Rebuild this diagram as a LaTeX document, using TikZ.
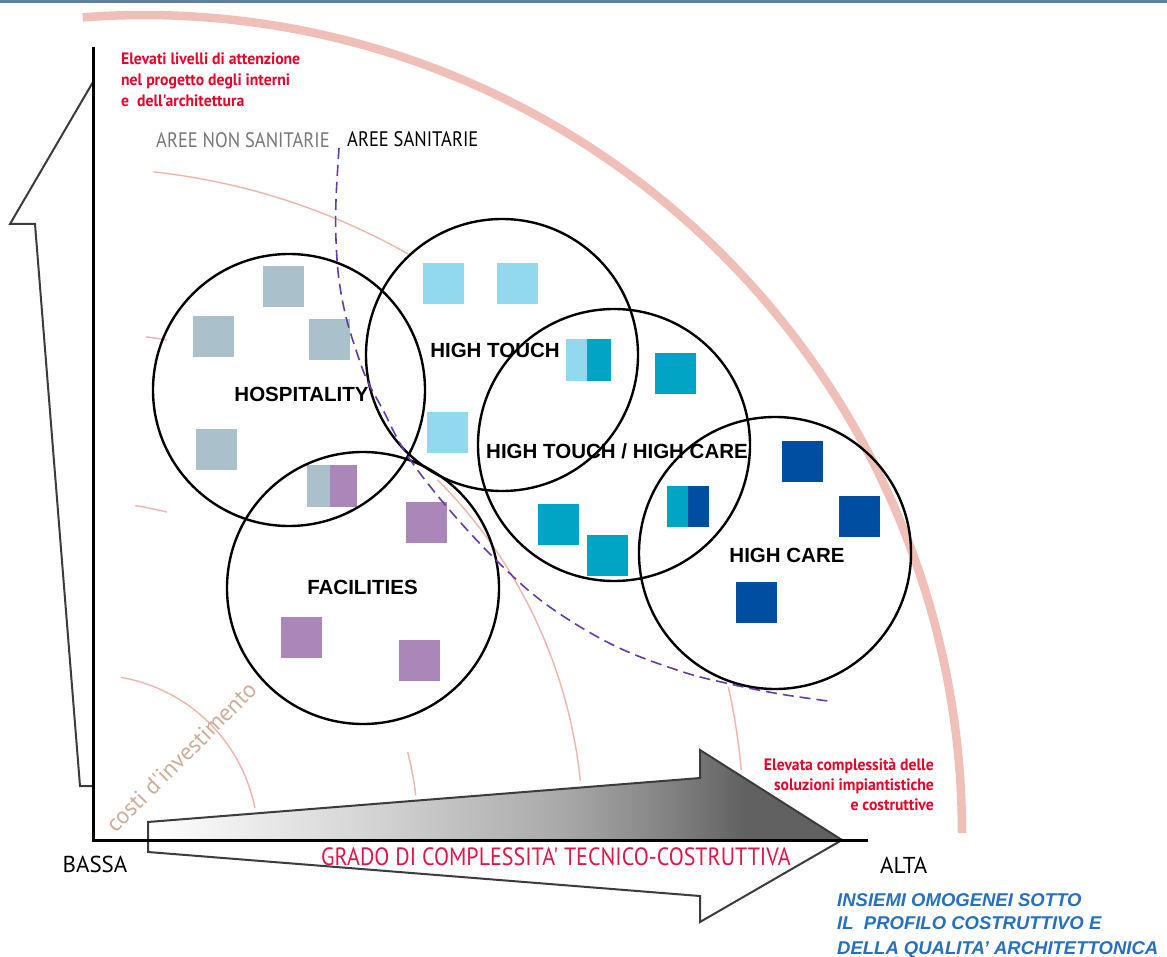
\documentclass[tikz,border=0pt]{standalone}
\usepackage{fontspec}
\setmainfont{Liberation Sans}
\newfontfamily\ptsans{PT Sans}
\newfontfamily\ptcond[FakeStretch=0.88]{PT Sans}
\newfontfamily\ptredf[FakeStretch=0.95]{PT Sans}
\definecolor{hospc}{RGB}{170,192,203}
\definecolor{purpc}{RGB}{170,135,184}
\definecolor{ltcyan}{RGB}{147,217,237}
\definecolor{tealc}{RGB}{0,164,197}
\definecolor{dblue}{RGB}{0,78,161}
\definecolor{bigpink}{RGB}{240,192,184}
\definecolor{thinpink}{RGB}{240,180,168}
\definecolor{dashc}{RGB}{100,60,165}
\definecolor{redtx}{RGB}{236,0,40}
\definecolor{crimson}{RGB}{228,20,72}
\definecolor{costic}{RGB}{208,172,152}
\definecolor{bluetx}{RGB}{38,112,190}
\definecolor{graytx}{RGB}{120,120,120}
\definecolor{topbar}{RGB}{95,125,165}
\definecolor{arrowgray}{RGB}{60,60,60}
\pgfdeclarehorizontalshading{arrowshade}{100bp}{color(0bp)=(white); color(25bp)=(white); color(42bp)=(black!18); color(55bp)=(black!34); color(63bp)=(black!50); color(68bp)=(black!62); color(100bp)=(black!62)}
\newcommand{\sqbox}[3]{\fill[#1] (#2,#3) rectangle ++(41,41);}
\begin{document}
\begin{tikzpicture}[x=1pt,y=-1pt,
  ring/.style={circle,draw=black,line width=2.4pt,minimum size=272pt,inner sep=0pt},
  lab/.style={font=\bfseries\fontsize{20.5}{24}\selectfont,inner sep=0pt,anchor=base},
  thinarc/.style={draw=thinpink,line width=1.4pt},
  bigarc/.style={draw=bigpink,line width=8.5pt},
  redline/.style={text=redtx,font=\ptredf\bfseries\fontsize{16.5}{20}\selectfont,inner sep=0pt},
  areatxt/.style={font=\ptcond\fontsize{21}{24}\selectfont,inner sep=0pt,anchor=base west},
  bluetxt/.style={text=bluetx,font=\bfseries\itshape\fontsize{18.5}{22}\selectfont,inner sep=0pt,anchor=base west},
  endtxt/.style={font=\ptsans\fontsize{23}{26}\selectfont,inner sep=0pt},
  outl/.style={draw=arrowgray,line width=2pt,line join=miter},
  axisline/.style={draw=black,line width=3pt},
  dashline/.style={draw=dashc,line width=1.6pt,dash pattern=on 11pt off 6pt}
]
\useasboundingbox (0,0) rectangle (1167,957);
\fill[white] (0,0) rectangle (1167,957);
\fill[topbar] (0,0) rectangle (1167,3);

% pink arcs
\draw[bigarc] plot[domain=0:94.3,samples=120] ({144+818*cos(\x)},{833-818*sin(\x)});
\draw[thinarc] plot[domain=11.2:80.3,samples=40] ({93+165*cos(\x)},{840-165*sin(\x)});
\draw[thinarc] plot[domain=75.9:81.5,samples=8] ({86+332*cos(\x)},{834-332*sin(\x)});
\draw[thinarc] plot[domain=6.7:14.3,samples=10] ({86+332*cos(\x)},{834-332*sin(\x)});
\draw[thinarc] plot[domain=80.4:82.9,samples=6] ({84+499*cos(\x)},{832-499*sin(\x)});
\draw[thinarc] plot[domain=5.9:44.9,samples=50] ({84+499*cos(\x)},{832-499*sin(\x)});
\draw[thinarc] plot[domain=60.5:83.8,samples=40] ({82+662*cos(\x)},{830-662*sin(\x)});
\draw[thinarc] plot[domain=5.2:12.5,samples=12] ({82+662*cos(\x)},{830-662*sin(\x)});

% left half arrow
\draw[outl] (93,82) -- (10,224) -- (35,224) -- (80,786) -- (93,786);

% bottom arrow
\shade[shading=arrowshade] (148,822) -- (700,778) -- (700,750) -- (842,840) -- (148,840) -- cycle;
\draw[outl] (148,822) -- (700,778) -- (700,750) -- (842,840) -- (700,922) -- (700,896) -- (148,852) -- cycle;

% axes
\draw[axisline] (93,47) -- (93,840) -- (868,840);

% squares
\sqbox{hospc}{263}{266}
\sqbox{hospc}{193}{316}
\sqbox{hospc}{309}{319}
\sqbox{hospc}{196}{429}
\fill[hospc] (307,465) rectangle (330,507);
\fill[purpc] (330,465) rectangle (357,507);
\sqbox{purpc}{406}{502}
\sqbox{purpc}{281}{617}
\sqbox{purpc}{399}{640}
\sqbox{ltcyan}{423}{263}
\sqbox{ltcyan}{497}{263}
\sqbox{ltcyan}{427}{412}
\fill[ltcyan] (566,339) rectangle (587,381);
\fill[tealc] (587,339) rectangle (611,381);
\sqbox{tealc}{655}{353}
\sqbox{tealc}{538}{504}
\sqbox{tealc}{587}{535}
\fill[tealc] (667,486) rectangle (688,527);
\fill[dblue] (688,486) rectangle (709,527);
\sqbox{dblue}{782}{441}
\sqbox{dblue}{839}{496}
\sqbox{dblue}{736}{582}

% circle labels
\node[lab] (lhosp) at (301.5,401) {HOSPITALITY};
\node[lab] (lht) at (495,358) {HIGH TOUCH};
\node[lab] (lhthc) at (617,458) {HIGH TOUCH / HIGH CARE};
\node[lab] (lhc) at (787,562) {HIGH CARE};
\node[lab] (lfac) at (362.5,594) {FACILITIES};

% circles
\node[ring] (chosp) at (289,390) {};
\node[ring] (cht) at (502,355) {};
\node[ring] (chthc) at (614,445) {};
\node[ring] (chc) at (775,553) {};
\node[ring] (cfac) at (363,588) {};

% dashed boundary
\draw[dashline] plot[smooth,tension=0.6] coordinates {(339,148) (336,200) (336,240) (339,280) (346,317) (356,350) (367,380) (383,410) (407,455) (447,507) (497,561) (547,605) (613,645) (680,671) (730,684) (780,694) (828,701)};

% texts
\node[redline,anchor=base west] (r1) at (121,65) {Elevati livelli di attenzione};
\node[redline,anchor=base west] (r2) at (121,86) {nel progetto degli interni};
\node[redline,anchor=base west] (r3) at (121,106.5) {e\ \ dell'architettura};
\node[areatxt,text=graytx] (nonsan) at (156,148) {AREE NON SANITARIE};
\node[areatxt,text=black] (san) at (347,147) {AREE SANITARIE};
\node[font=\ptsans\fontsize{23.5}{26}\selectfont,text=costic,rotate=45,inner sep=0pt] (costi) at (181,757) {costi d'investimento};
\node[endtxt,anchor=base] (bassa) at (95,872) {BASSA};
\node[endtxt,anchor=base west] (alta) at (880,873) {ALTA};
\node[font=\ptcond\fontsize{25}{28}\selectfont,text=crimson,anchor=base,inner sep=0pt] (grado) at (556,865.5) {GRADO DI COMPLESSITA' TECNICO-COSTRUTTIVA};
\node[redline,anchor=base east] (e1) at (934,770.5) {Elevata complessità delle};
\node[redline,anchor=base east] (e2) at (934,790.5) {soluzioni impiantistiche};
\node[redline,anchor=base east] (e3) at (934,810.5) {e costruttive};
\node[bluetxt] (b1) at (837,906) {INSIEMI OMOGENEI SOTTO};
\node[bluetxt] (b2) at (837,929) {IL\ \ PROFILO COSTRUTTIVO E};
\node[bluetxt] (b3) at (837,954) {DELLA QUALITA' ARCHITETTONICA};
\end{tikzpicture}
\end{document}
